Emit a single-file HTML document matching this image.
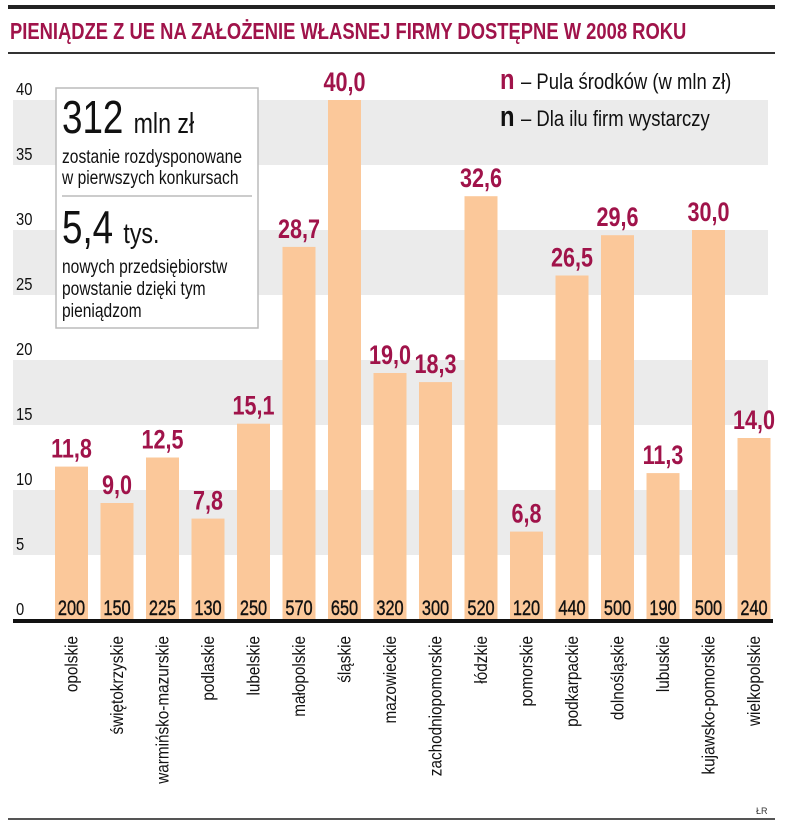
<!DOCTYPE html>
<html><head><meta charset="utf-8">
<style>
body{margin:0;background:#fff;width:805px;height:825px;overflow:hidden;}
svg text{font-family:"Liberation Sans",sans-serif;}
</style></head>
<body>
<svg width="805" height="825" xmlns="http://www.w3.org/2000/svg">
<rect x="8" y="5" width="767" height="4" fill="#222"/>
<text transform="translate(10,39) scale(0.8,1)" font-size="23" font-weight="bold" fill="#a0134a">PIENIĄDZE Z UE NA ZAŁOŻENIE WŁASNEJ FIRMY DOSTĘPNE W 2008 ROKU</text>
<rect x="8" y="52" width="767" height="2" fill="#333"/>
<g id="bands"></g>
<g id="yticks"></g>
<g id="bars"></g>
<rect x="13" y="619" width="760" height="4" fill="#111"/>
<g id="xlabels"></g>
<g>
<rect x="56" y="88" width="202" height="240" fill="#fff" stroke="#bbb" stroke-width="1.5"/>
<text transform="translate(62,133) scale(0.8,1)" font-size="46" fill="#111">312 <tspan font-size="29">mln zł</tspan></text>
<text transform="translate(62,163) scale(0.82,1)" font-size="19" fill="#111">zostanie rozdysponowane</text>
<text transform="translate(62,184) scale(0.82,1)" font-size="19" fill="#111">w pierwszych konkursach</text>
<line x1="62" y1="196" x2="252" y2="196" stroke="#999"/>
<text transform="translate(62,243) scale(0.8,1)" font-size="46" fill="#111">5,4 <tspan font-size="29">tys.</tspan></text>
<text transform="translate(62,273) scale(0.82,1)" font-size="19" fill="#111">nowych przedsiębiorstw</text>
<text transform="translate(62,295) scale(0.82,1)" font-size="19" fill="#111">powstanie dzięki tym</text>
<text transform="translate(62,317) scale(0.82,1)" font-size="19" fill="#111">pieniądzom</text>
</g>
<g>
<text transform="translate(500,89) scale(0.82,1)" font-size="29" font-weight="bold" fill="#a0134a">n</text>
<text transform="translate(521,89) scale(0.84,1)" font-size="22" fill="#111">– Pula środków (w mln zł)</text>
<text transform="translate(500,126) scale(0.82,1)" font-size="29" font-weight="bold" fill="#111">n</text>
<text transform="translate(521,126) scale(0.84,1)" font-size="22" fill="#111">– Dla ilu firm wystarczy</text>
</g>
<rect x="8" y="818" width="767" height="2" fill="#555"/>
<text x="756" y="814" font-size="9" fill="#333">ŁR</text>
</svg>
<script>
const categories=["opolskie","świętokrzyskie","warmińsko-mazurskie","podlaskie","lubelskie","małopolskie","śląskie","mazowieckie","zachodniopomorskie","łódzkie","pomorskie","podkarpackie","dolnośląskie","lubuskie","kujawsko-pomorskie","wielkopolskie"];
const funds=[11.8,9.0,12.5,7.8,15.1,28.7,40.0,19.0,18.3,32.6,6.8,26.5,29.6,11.3,30.0,14.0];
const firms=[200,150,225,130,250,570,650,320,300,520,120,440,500,190,500,240];
const yTicks=[0,5,10,15,20,25,30,35,40];
const NS="http://www.w3.org/2000/svg";
const y0=620,yTop=100,yMax=40;
function yS(v){return y0-(v/yMax)*(y0-yTop);}
function xS(i){return 55+i*45.5;}
const bw=33;
function mk(tag,attrs,parent){const e=document.createElementNS(NS,tag);for(const k in attrs)e.setAttribute(k,attrs[k]);parent.appendChild(e);return e;}
const bands=document.getElementById('bands');
for(let t=5;t<yMax;t+=10){
 const r=mk('rect',{x:13,y:yS(t+5),width:755,height:yS(t)-yS(t+5),fill:'#ebebeb'},bands);
 
 
}
const yt=document.getElementById('yticks');
yTicks.forEach(t=>{
 const e=mk('text',{transform:'translate(16,'+(yS(t)-5)+') scale(0.82,1)','font-size':18,fill:'#111'},yt);
 e.textContent=t;
 
 
});
const bars=document.getElementById('bars'),xl=document.getElementById('xlabels');
categories.forEach((c,i)=>{
 const x=xS(i),cx=x+bw/2;
 const r=mk('rect',{x:x,y:yS(funds[i]),width:bw,height:y0-yS(funds[i]),fill:'#fbc89a'},bars);
 
 
 const v=mk('text',{transform:'translate('+cx+','+(yS(funds[i])-9)+') scale(0.8,1)','font-size':27,'font-weight':'bold',fill:'#a0134a','text-anchor':'middle'},bars);
 v.textContent=funds[i].toFixed(1).replace('.',',');
 
 
 const f=mk('text',{transform:'translate('+cx+',615) scale(0.78,1)','font-size':21,fill:'#111','text-anchor':'middle',stroke:'#111','stroke-width':0.4},bars);
 f.textContent=firms[i];
 
 
 const l=mk('text',{x:0,y:0,'font-size':18,fill:'#111','text-anchor':'end',transform:'translate('+(cx+6)+',636) rotate(-90) scale(0.85,1)'},xl);
 l.textContent=c;
 
 
});
</script>
</body></html>
